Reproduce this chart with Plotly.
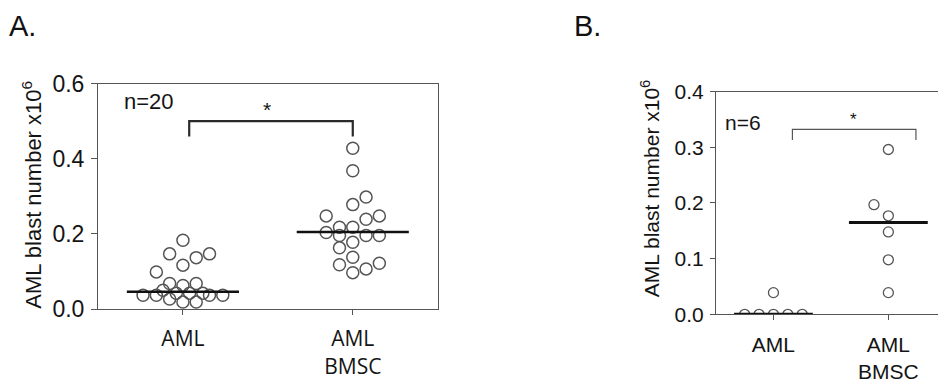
import plotly.graph_objects as go

W, H = 938, 383

# ---------------- data ----------------
groups = ["AML", "AML<br>BMSC"]

# Panel A (n=20)
a_aml = [0.183, 0.147, 0.147, 0.137, 0.117, 0.099, 0.068, 0.063, 0.068, 0.050,
         0.042, 0.042, 0.042, 0.037, 0.037, 0.037, 0.037, 0.027, 0.019, 0.019]
a_aml_slot = [0, -1, 2, 1, 0, -2, -1, 0, 1, -1.5,
              -0.5, 0.5, 1.5, -3, -2, 2, 3, -1, 0, 1]
a_bmsc = [0.428, 0.368, 0.298, 0.278, 0.248, 0.248, 0.239, 0.218, 0.218, 0.204,
          0.196, 0.196, 0.196, 0.178, 0.163, 0.138, 0.118, 0.122, 0.107, 0.097]
a_bmsc_slot = [0, 0, 1, 0, -2, 2, 1, -1, 0, -2,
               -1, 1, 2, 0, -1, 0, -1, 2, 1, 0]
a_median = [0.046, 0.205]

# Panel B (n=6)
b_aml = [0.0, 0.0, 0.0, 0.0, 0.0, 0.039]
b_aml_slot = [-2, -1, 0, 1, 2, 0]
b_bmsc = [0.296, 0.197, 0.177, 0.148, 0.098, 0.039]
b_bmsc_slot = [0, -1, 0, 0, 0, 0]
b_median = [0.0, 0.165]

ytick_a = [0.0, 0.2, 0.4, 0.6]
ytick_b = [0.0, 0.1, 0.2, 0.3, 0.4]
ytitle = "AML blast number x10<sup>6</sup>"

# ---------------- geometry helpers ----------------
def px_x(p):
    return p / W

def px_y(p):
    return 1 - p / H

GRAY = "#555555"
TXT = "#141414"
ARIAL = "Liberation Sans, Arial, sans-serif"
SANS2 = "Open Sans, sans-serif"

fig = go.Figure()

# ---- Panel A
slotA = 13.3 / 170.0
fig.add_trace(go.Scatter(
    x=[0 + s * slotA for s in a_aml_slot], y=a_aml, mode="markers",
    marker=dict(symbol="circle-open", size=12, color=GRAY, line=dict(width=1.5)),
    xaxis="x", yaxis="y", showlegend=False, hoverinfo="skip"))
fig.add_trace(go.Scatter(
    x=[1 + s * slotA for s in a_bmsc_slot], y=a_bmsc, mode="markers",
    marker=dict(symbol="circle-open", size=12, color=GRAY, line=dict(width=1.5)),
    xaxis="x", yaxis="y", showlegend=False, hoverinfo="skip"))
for i, m in enumerate(a_median):
    fig.add_trace(go.Scatter(x=[i - 0.33, i + 0.33], y=[m, m], mode="lines",
                             line=dict(color="#111111", width=2.5),
                             xaxis="x", yaxis="y", showlegend=False, hoverinfo="skip"))
fig.add_trace(go.Scatter(x=[0.037, 0.037, 1.0, 1.0], y=[0.459, 0.50, 0.50, 0.459],
                         mode="lines", line=dict(color="#2a2a2a", width=2.2),
                         xaxis="x", yaxis="y", showlegend=False, hoverinfo="skip"))

# ---- Panel B
slotB = 14.4 / 115.0
fig.add_trace(go.Scatter(
    x=[0 + s * slotB for s in b_aml_slot], y=b_aml, mode="markers",
    marker=dict(symbol="circle-open", size=10, color=GRAY, line=dict(width=1.3)),
    xaxis="x2", yaxis="y2", showlegend=False, hoverinfo="skip"))
fig.add_trace(go.Scatter(
    x=[1 + s * slotB for s in b_bmsc_slot], y=b_bmsc, mode="markers",
    marker=dict(symbol="circle-open", size=10, color=GRAY, line=dict(width=1.3)),
    xaxis="x2", yaxis="y2", showlegend=False, hoverinfo="skip"))
for i, m in enumerate(b_median):
    fig.add_trace(go.Scatter(x=[i - 0.343, i + 0.343], y=[m, m], mode="lines",
                             line=dict(color="#111111", width=3),
                             xaxis="x2", yaxis="y2", showlegend=False, hoverinfo="skip"))
fig.add_trace(go.Scatter(x=[0.165, 0.165, 1.24, 1.24], y=[0.313, 0.332, 0.332, 0.313],
                         mode="lines", line=dict(color="#555555", width=1.2),
                         xaxis="x2", yaxis="y2", showlegend=False, hoverinfo="skip"))

axis_common = dict(showgrid=False, zeroline=False, showline=True, linecolor=GRAY,
                   linewidth=1, ticks="outside", tickcolor=GRAY, tickwidth=1)

fig.update_layout(
    width=W, height=H, margin=dict(l=0, r=0, t=0, b=0),
    paper_bgcolor="white", plot_bgcolor="white",
    xaxis=dict(**axis_common, domain=[px_x(98), px_x(437.7)], range=[-0.5, 1.5],
               tickvals=[0, 1], ticktext=groups, ticklen=5, mirror=True,
               ticklabelstandoff=6,
               tickfont=dict(family=SANS2, size=21, color=TXT), anchor="y"),
    yaxis=dict(**axis_common, domain=[px_y(317.7), px_y(75.7)], range=[0, 0.6],
               tickvals=ytick_a, tickformat=".1f", ticklen=6, mirror=True,
               ticklabelstandoff=2,
               tickfont=dict(family=ARIAL, size=23, color=TXT), anchor="x"),
    xaxis2=dict(**axis_common, domain=[px_x(716), 1.0], range=[-0.5, 1.432],
                tickvals=[0, 1], ticktext=groups, ticklen=5, mirror=True,
                ticklabelstandoff=6,
                tickfont=dict(family=ARIAL, size=21, color=TXT), anchor="y2"),
    yaxis2=dict(**axis_common, domain=[px_y(323.3), px_y(84.3)], range=[0, 0.4],
                tickvals=ytick_b, tickformat=".1f", ticklen=5,
                ticklabelstandoff=2,
                tickfont=dict(family=ARIAL, size=21, color=TXT), anchor="x2"),
)

ann = [
    dict(text="A.", x=px_x(7), y=px_y(33), xref="paper", yref="paper",
         xanchor="left", yanchor="bottom", showarrow=False,
         font=dict(family=ARIAL, size=29, color="#111111")),
    dict(text="B.", x=px_x(572), y=px_y(33), xref="paper", yref="paper",
         xanchor="left", yanchor="bottom", showarrow=False,
         font=dict(family=ARIAL, size=29, color="#111111")),
    dict(text=ytitle, x=px_x(32), y=px_y(195), xref="paper", yref="paper",
         textangle=-90, showarrow=False, xanchor="center", yanchor="middle",
         font=dict(family=ARIAL, size=22, color=TXT)),
    dict(text=ytitle, x=px_x(650), y=px_y(188), xref="paper", yref="paper",
         textangle=-90, showarrow=False, xanchor="center", yanchor="middle",
         font=dict(family=ARIAL, size=21, color=TXT)),
    dict(text="n=20", x=-0.2, y=0.553, xref="x", yref="y", showarrow=False,
         font=dict(family=ARIAL, size=22, color=TXT)),
    dict(text="*", x=0.496, y=0.53, xref="x", yref="y", showarrow=False,
         font=dict(family=ARIAL, size=21, color=TXT)),
    dict(text="n=6", x=-0.268, y=0.344, xref="x2", yref="y2", showarrow=False,
         font=dict(family=ARIAL, size=21, color=TXT)),
    dict(text="*", x=0.70, y=0.35, xref="x2", yref="y2", showarrow=False,
         font=dict(family=ARIAL, size=17, color=TXT)),
]
fig.update_layout(annotations=ann)

fig.write_html("out.html")
